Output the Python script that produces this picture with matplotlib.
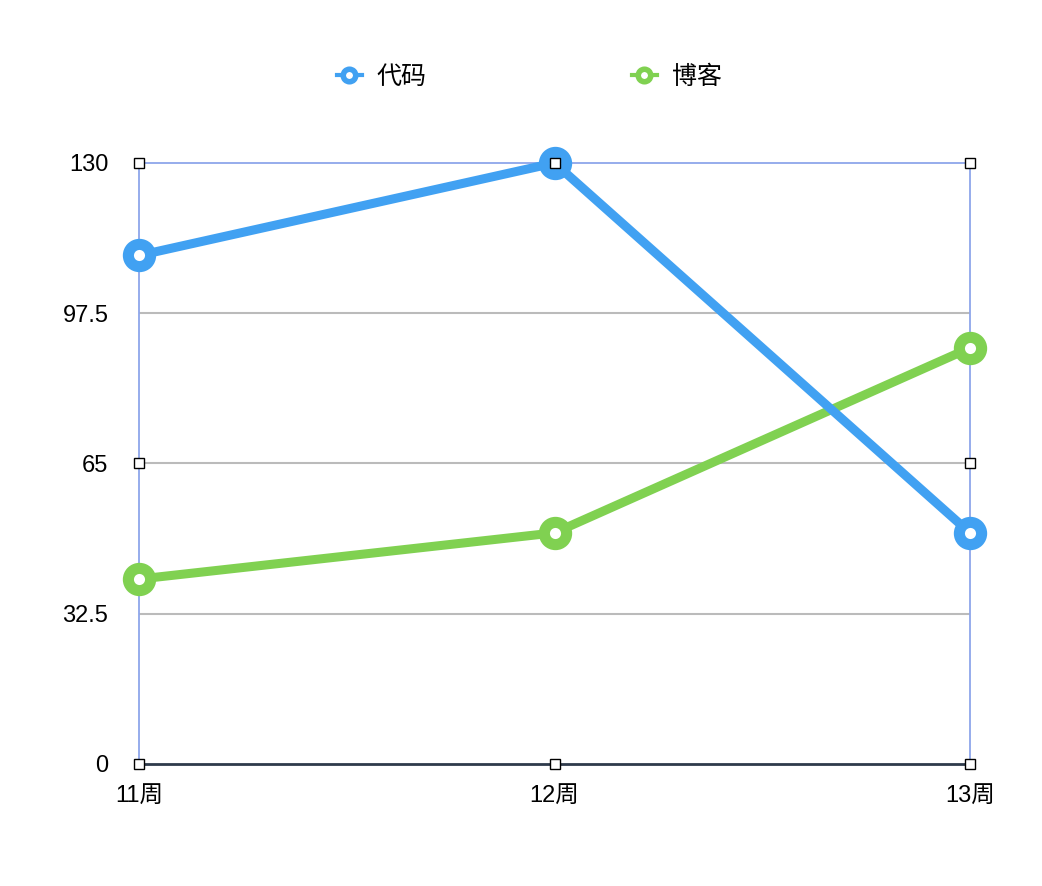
import matplotlib.pyplot as plt
from matplotlib.lines import Line2D

plt.rcParams['font.family'] = ['Liberation Sans', 'Noto Sans CJK SC', 'DejaVu Sans']

# data
weeks = ['11周', '12周', '13周']
code = [110, 130, 50]
blog = [40, 50, 90]
yticks = [0, 32.5, 65, 97.5, 130]
ytick_labels = ['0', '32.5', '65', '97.5', '130']

blue = '#41a1f2'
green = '#80d151'

fig = plt.figure(figsize=(10.42, 8.86), dpi=100)
ax = fig.add_axes([139 / 1042, 122 / 886, 831 / 1042, 601 / 886])

x = list(range(len(weeks)))
ax.plot(x, code, color=blue, lw=6.5, marker='o', ms=16, mfc='white',
        mec=blue, mew=8, clip_on=False, zorder=5)
ax.plot(x, blog, color=green, lw=6.5, marker='o', ms=16, mfc='white',
        mec=green, mew=8, clip_on=False, zorder=4)

ax.set_xlim(0, 2)
ax.set_ylim(0, 130)
ax.set_xticks(x)
ax.set_xticklabels(weeks, fontsize=17)
ax.set_yticks(yticks)
ax.set_yticklabels(ytick_labels, fontsize=17, va='center_baseline')
ax.tick_params(axis='y', length=0, pad=22)
ax.tick_params(axis='x', length=0, pad=16)

# grid lines
for v in yticks[1:-1]:
    ax.axhline(v, color='#bbbbbb', lw=1.5, zorder=1)

# selection frame
for s in ['top', 'left', 'right']:
    ax.spines[s].set_color('#8ea6ea')
    ax.spines[s].set_linewidth(1.3)
ax.spines['bottom'].set_color('#2e3a4b')
ax.spines['bottom'].set_linewidth(2)

# selection handles
hx = [0, 1, 2, 0, 2, 0, 1, 2]
hy = [130, 130, 130, 65, 65, 0, 0, 0]
ax.plot(hx, hy, ls='none', marker='s', ms=7, mfc='white', mec='black',
        mew=1, clip_on=False, zorder=10)

handles = [
    Line2D([], [], color=blue, lw=3, marker='o', ms=9, mfc='white', mec=blue, mew=4),
    Line2D([], [], color=green, lw=3, marker='o', ms=9, mfc='white', mec=green, mew=4),
]
fig.legend(handles, ['代码', '博客'], loc='center', bbox_to_anchor=(0.508, 0.913),
           ncol=2, frameon=False, fontsize=18, columnspacing=8.2,
           handlelength=1.0, handletextpad=0.6)

fig.savefig('out.png', dpi=100)
